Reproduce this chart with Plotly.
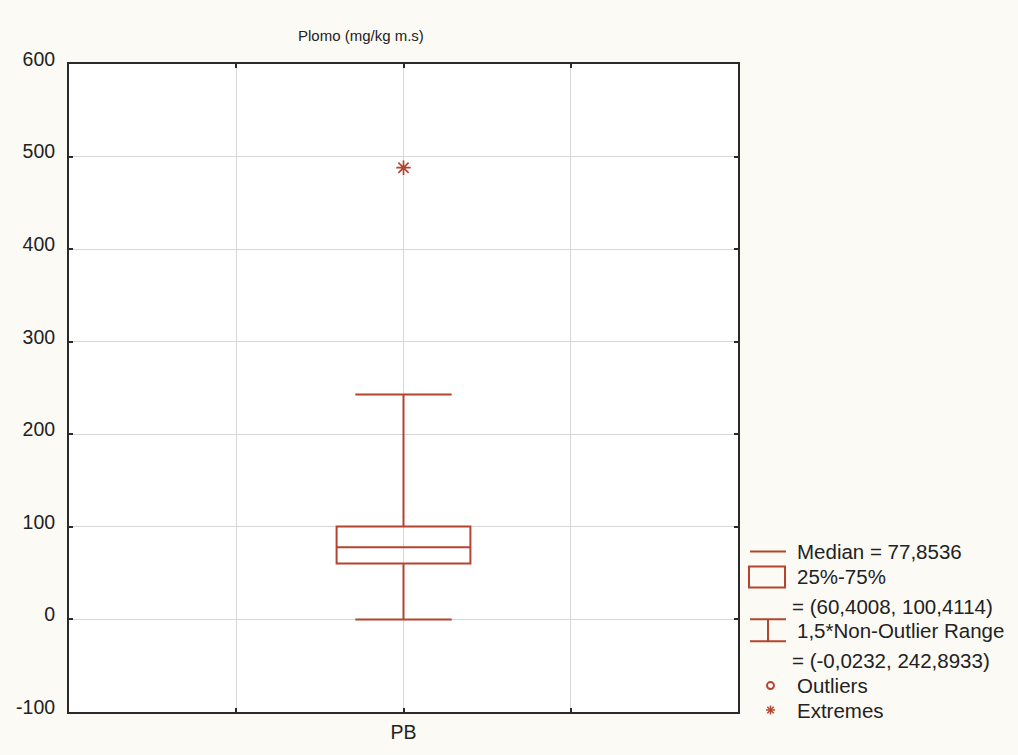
import plotly.graph_objects as go

# ---- data ----
categories = ["PB"]
q1_vals = [60.4008]
median_vals = [77.8536]
q3_vals = [100.4114]
lower_fence = [-0.0232]
upper_fence = [242.8933]
extreme_vals = [488.0]
y_tick_vals = [-100, 0, 100, 200, 300, 400, 500, 600]
y_tick_text = ["-100", "0", "100", "200", "300", "400", "500", "600"]
title_text = "Plomo (mg/kg m.s)"
legend_lines = [
    "Median = 77,8536",
    "25%-75%",
    "= (60,4008, 100,4114)",
    "1,5*Non-Outlier Range",
    "= (-0,0232, 242,8933)",
    "Outliers",
    "Extremes",
]

RED = "#b3452f"
FONT = "Liberation Sans"
W, H = 1018, 755
L, R, T, B = 69, 738, 64, 714

xpos = list(range(len(categories)))

fig = go.Figure()
fig.add_trace(go.Box(
    x=xpos, q1=q1_vals, median=median_vals, q3=q3_vals,
    lowerfence=lower_fence, upperfence=upper_fence,
    width=0.8, whiskerwidth=0.72, boxpoints=False,
    fillcolor="rgba(0,0,0,0)", line=dict(color=RED, width=2),
    showlegend=False, hoverinfo="skip",
))
fig.add_trace(go.Scatter(
    x=xpos, y=extreme_vals, mode="markers",
    marker=dict(symbol="asterisk-open", size=12, color=RED,
                line=dict(color=RED, width=1.7)),
    showlegend=False, hoverinfo="skip",
))

def px(x):
    return (x - L) / (R - L)

def py(y):
    return (B - y) / (B - T)

shapes = []
annotations = []
annotations.append(dict(x=px(296), y=py(35), xref="paper", yref="paper",
                        text=title_text, showarrow=False, xanchor="left",
                        yanchor="middle", font=dict(family=FONT, size=15, color="#222")))

lc = dict(color=RED, width=2)
shapes.append(dict(type="line", xref="paper", yref="paper", x0=px(750), x1=px(786),
                   y0=py(553), y1=py(553), line=lc))
shapes.append(dict(type="rect", xref="paper", yref="paper", x0=px(749), x1=px(785),
                   y0=py(568), y1=py(589), line=lc))
shapes.append(dict(type="line", xref="paper", yref="paper", x0=px(750), x1=px(786),
                   y0=py(621), y1=py(621), line=lc))
shapes.append(dict(type="line", xref="paper", yref="paper", x0=px(750), x1=px(786),
                   y0=py(643), y1=py(643), line=lc))
shapes.append(dict(type="line", xref="paper", yref="paper", x0=px(768), x1=px(768),
                   y0=py(621), y1=py(643), line=lc))
shapes.append(dict(type="circle", xref="paper", yref="paper", x0=px(767), x1=px(774),
                   y0=py(684), y1=py(691), line=dict(color=RED, width=2)))
cx, cy, r = 770.5, 712, 4.5
for dx, dy in [(0, r), (r, 0), (r * 0.72, r * 0.72), (r * 0.72, -r * 0.72)]:
    shapes.append(dict(type="line", xref="paper", yref="paper",
                       x0=px(cx - dx), x1=px(cx + dx), y0=py(cy - dy), y1=py(cy + dy),
                       line=dict(color=RED, width=1.5)))

text_pos = [(795, 553), (795, 578), (790, 608), (795, 632), (790, 662), (795, 687), (795, 712)]
for (tx, ty), t in zip(text_pos, legend_lines):
    annotations.append(dict(x=px(tx), y=py(ty), xref="paper", yref="paper", text=t,
                            showarrow=False, xanchor="left", yanchor="middle",
                            font=dict(family=FONT, size=20.5, color="#222")))

fig.update_layout(
    width=W, height=H,
    margin=dict(l=L, r=W - R, t=T, b=H - B, pad=0),
    paper_bgcolor="#fcfaf5", plot_bgcolor="white",
    font=dict(family=FONT, size=19.5, color="#222"),
    shapes=shapes, annotations=annotations,
    xaxis=dict(range=[-2, 2], tickvals=[-1, 0, 1], ticktext=["", categories[0], ""],
               showgrid=True, gridcolor="#d6d6d6", gridwidth=1, zeroline=False,
               showline=True, linecolor="#2a2a2a", linewidth=2, mirror="ticks",
               ticks="inside", ticklen=4, tickcolor="#2a2a2a", tickwidth=1.5,
               ticklabelstandoff=2),
    yaxis=dict(range=[-100, 600], tickvals=y_tick_vals, ticktext=y_tick_text,
               showgrid=True, gridcolor="#d6d6d6",
               gridwidth=1, zeroline=False, showline=True, linecolor="#2a2a2a",
               linewidth=2, mirror="ticks", ticks="inside", ticklen=4,
               tickcolor="#2a2a2a", tickwidth=1.5, ticklabelstandoff=8,
               ticklabelshift=-5),
)

fig.write_html("out.html", post_script="document.body.style.margin='0';",
               config={"displayModeBar": False})
